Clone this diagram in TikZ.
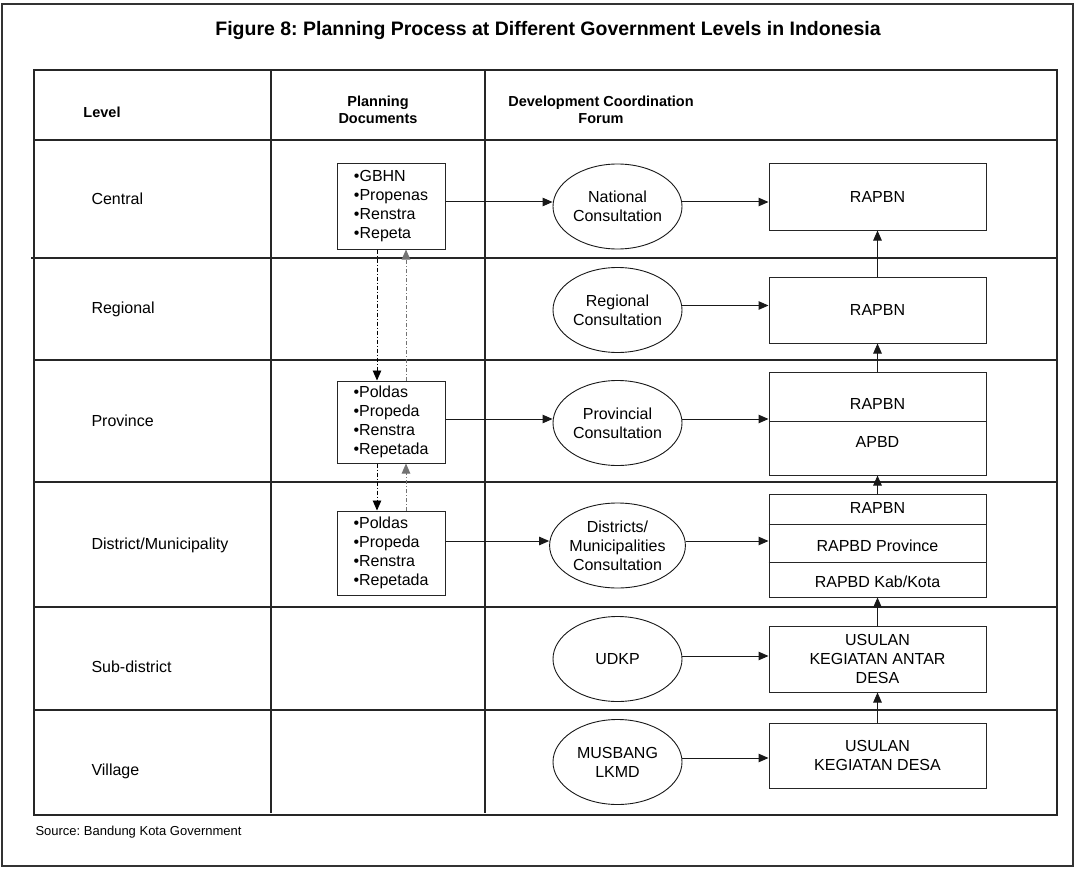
\documentclass[tikz,border=0pt]{standalone}
\usepackage{fontspec}
\setmainfont{Liberation Sans}
\usetikzlibrary{shapes.geometric,arrows.meta}
\frenchspacing

\begin{document}
\begin{tikzpicture}[x=1pt,y=-1pt,
  body/.style={font=\fontsize{16}{19}\selectfont},
  frame/.style={draw=black!80, line width=1.6pt},
  rule/.style={draw=black!85, line width=1.1pt},
  docbox/.style={draw=black!85, line width=1pt, minimum width=108pt, inner sep=0pt,
                 align=left, body},
  forum/.style={ellipse, draw=black!90, line width=0.9pt, minimum width=129pt,
                minimum height=85pt, inner sep=0pt, align=center, body},
  outbox/.style={draw=black!85, line width=1pt, minimum width=217pt, inner sep=0pt},
  arr/.style={-{Triangle[length=10pt,width=8.5pt]}, draw=black!90, line width=1pt},
  ddarr/.style={-{Triangle[length=10pt,width=8.5pt]}, line width=0.9pt,
                dash pattern=on 4pt off 2pt on 1pt off 2pt},
  lvl/.style={anchor=west, body},
  head/.style={font=\fontsize{14.5}{17.5}\selectfont\bfseries, align=center}
]
\path[use as bounding box] (0,0) rectangle (1081,869);

% frame and title
\draw[frame] (2,4) rectangle (1073,866);
\node[font=\fontsize{19.5}{22}\selectfont\bfseries] (title) at (548,31)
  {Figure 8: Planning Process at Different Government Levels in Indonesia};

% table grid
\draw[rule] (34,70) rectangle (1057,815);
\draw[rule] (34,140) -- (1057,140);
\draw[rule] (31,258) -- (1057,258);
\draw[rule] (34,360) -- (1057,360);
\draw[rule] (34,482) -- (1057,482);
\draw[rule] (34,607) -- (1057,607);
\draw[rule] (34,710) -- (1057,710);
\draw[rule] (271,70) -- (271,813);
\draw[rule] (485,70) -- (485,813);

% column headings
\node[head] (hLevel) at (102,112) {Level};
\node[head] (hDocs) at (378,110) {Planning\\Documents};
\node[head] (hForum) at (601,110) {Development Coordination\\Forum};

% level labels
\node[lvl] (lCentral) at (88,199) {Central};
\node[lvl] (lRegional) at (88,309) {Regional};
\node[lvl] (lProvince) at (88,421) {Province};
\node[lvl] (lDistrict) at (88,545) {District/Municipality};
\node[lvl] (lSub) at (88,667) {Sub-district};
\node[lvl] (lVillage) at (88,771) {Village};

% planning documents
\node[docbox, minimum height=85pt] (gbhn) at (391,206.5)
  {•GBHN\\•Propenas\\•Renstra\\•Repeta};
\node[docbox, minimum height=82pt] (prov) at (391,422)
  {•Poldas\\•Propeda\\•Renstra\\•Repetada};
\node[docbox, minimum height=84pt] (dist) at (391,553)
  {•Poldas\\•Propeda\\•Renstra\\•Repetada};

% coordination forums
\node[forum] (nat) at (617.5,206.5) {National\\Consultation};
\node[forum] (reg) at (617.5,310) {Regional\\Consultation};
\node[forum] (prv) at (617.5,423) {Provincial\\Consultation};
\node[forum] (dst) at (617.5,545.5) {Districts/\\Municipalities\\Consultation};
\node[forum] (udkp) at (617.5,659) {UDKP};
\node[forum] (mus) at (617.5,762) {MUSBANG\\LKMD};

% budget documents
\node[outbox, minimum height=66pt] (b1) at (877.5,197) {};
\node[outbox, minimum height=66pt] (b2) at (877.5,310) {};
\node[outbox, minimum height=103pt] (b3) at (877.5,423.5) {};
\node[outbox, minimum height=103pt] (b4) at (877.5,545.5) {};
\node[outbox, minimum height=66pt] (b5) at (877.5,659) {};
\node[outbox, minimum height=65pt] (b6) at (877.5,755.5) {};

\draw[rule, line width=1pt] (b3.west |- 0,421) -- (b3.east |- 0,421);
\draw[rule, line width=1pt] (b4.west |- 0,524) -- (b4.east |- 0,524);
\draw[rule, line width=1pt] (b4.west |- 0,562) -- (b4.east |- 0,562);

\node[body] (t1) at (b1) {RAPBN};
\node[body] (t2) at (b2) {RAPBN};
\node[body] (t3a) at (877.5,404) {RAPBN};
\node[body] (t3b) at (877.5,442) {APBD};
\node[body] (t4a) at (877.5,508) {RAPBN};
\node[body] (t4b) at (877.5,546) {RAPBD Province};
\node[body] (t4c) at (877.5,582) {RAPBD Kab/Kota};
\node[body, align=center] (t5) at (b5) {USULAN\\KEGIATAN ANTAR\\DESA};
\node[body, align=center] (t6) at (b6) {USULAN\\KEGIATAN DESA};

% flows: documents -> forums -> budgets
\draw[arr] ([yshift=4.5pt]gbhn.east) -- ([yshift=4.5pt]nat.west);
\draw[arr] ([yshift=4.5pt]nat.east) -- ([yshift=-5pt]b1.west);
\draw[arr] ([yshift=4.5pt]reg.east) -- ([yshift=4.5pt]b2.west);
\draw[arr] ([yshift=3pt]prov.east) -- ([yshift=4pt]prv.west);
\draw[arr] ([yshift=4pt]prv.east) -- ([yshift=4.5pt]b3.west);
\draw[arr] ([yshift=12pt]dist.east) -- ([yshift=4.5pt]dst.west);
\draw[arr] ([yshift=4.5pt]dst.east) -- ([yshift=4.5pt]b4.west);
\draw[arr] ([yshift=3pt]udkp.east) -- ([yshift=3pt]b5.west);
\draw[arr] ([yshift=4pt]mus.east) -- ([yshift=-2.5pt]b6.west);

% budgets feed upward
\draw[arr] (b2.north) -- (b1.south);
\draw[arr] (b3.north) -- (b2.south);
\draw[arr] (b4.north) -- (b3.south);
\draw[arr] (b5.north) -- (b4.south);
\draw[arr] (b6.north) -- (b5.south);

% links between planning documents
\draw[ddarr] ([xshift=-14pt]gbhn.south) -- ([xshift=-14pt]prov.north);
\draw[ddarr, black!55] ([xshift=15pt]prov.north) -- ([xshift=15pt]gbhn.south);
\draw[ddarr] ([xshift=-14pt]prov.south) -- ([xshift=-14pt]dist.north);
\draw[ddarr, black!55] ([xshift=15pt]dist.north) -- ([xshift=15pt]prov.south);

% source note
\node[anchor=west, font=\fontsize{13}{15}\selectfont] (src) at (32,832)
  {Source: Bandung Kota Government};
\end{tikzpicture}
\end{document}
